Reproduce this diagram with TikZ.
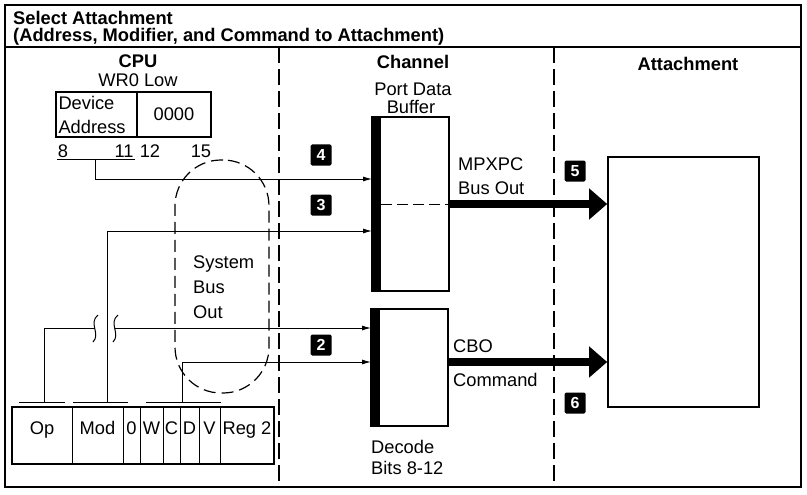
\documentclass[tikz,border=0pt]{standalone}
\usepackage{fontspec}
\setmainfont{Liberation Sans}
\usetikzlibrary{arrows.meta,positioning,calc}

\begin{document}
\begin{tikzpicture}[
  x=1pt, y=-1pt,
  >={Latex[length=9pt,width=5pt]},
  every node/.style={font=\fontsize{18.3}{21}\selectfont, inner sep=0pt},
  head/.style={font=\bfseries\fontsize{18.3}{21}\selectfont},
  reg/.style={draw, line width=1.6pt, outer sep=0pt, minimum height=45pt},
  field/.style={draw, line width=0.9pt, outer sep=0pt, minimum height=57pt},
  buf/.style={draw, line width=1.6pt, outer sep=0pt, minimum width=77pt},
  badge/.style={fill=black, text=white, rounded corners=1.5pt, minimum size=21pt,
                font=\bfseries\fontsize{16}{16}\selectfont},
  sep/.style={line width=1.3pt, dash pattern=on 16pt off 6pt},
  bus/.style={line width=1.2pt, dash pattern=on 12pt off 6pt},
  wire/.style={line width=1pt},
  fat/.style={line width=8pt, -{Triangle[length=18pt,width=30pt]}},
]
\useasboundingbox (0,0) rectangle (807,495);

% frame and title
\draw[line width=1.8pt] (5,5) rectangle (801,487);
\draw[line width=1.8pt] (5,47) -- (801,47);
\node[head, anchor=west] (title) at (13,18) {Select Attachment};
\node[head, anchor=west] (subtitle) at (13,37) {(Address, Modifier, and Command to Attachment)};

% column separators
\draw[sep] (279,47) -- (279,487);
\draw[sep] (554,47) -- (554,487);

% headings
\node[head] (cpu) at (138,61) {CPU};
\node (wr0) at (138,80) {WR0 Low};
\node[head] (chan) at (413,62) {Channel};
\node (port) at (413,89) {Port Data};
\node (buffer) at (411,107) {Buffer};
\node[head] (att) at (688,64) {Attachment};

% WR0 low register
\node[reg, minimum width=81pt, text width=76pt, align=left,
      font=\fontsize{18.3}{24}\selectfont] (dev) at (96.5,114.5) {Device\\Address};
\node[reg, minimum width=74pt, right=0pt of dev] (zero) {0000};
\node (b8) at (63,151) {8};
\node (b11) at (124,151) {11};
\node (b12) at (150,151) {12};
\node (b15) at (201,151) {15};
\draw[wire] (57,159) -- (135,159);
\coordinate (tap4) at (95,159);

% system bus out
\node[draw, bus, rounded corners=46pt, minimum width=94pt, minimum height=233pt]
  (sbo) at (222,276.5) {};
\node[anchor=west, align=left, font=\fontsize{18.3}{25}\selectfont]
  (sbotxt) at (193,287) {System\\Bus\\Out};

% instruction register
\foreach \a/\b/\t/\n in {12/72/Op/op, 72/123/Mod/mod, 123/140/0/zb, 140/163/W/w,
                         163/180/C/c, 180/199/D/d, 199/220/V/v, 220/274/Reg 2/rg}{
  \node[field, minimum width={(\b-\a)*1pt}] (\n) at ({(\a+\b)/2},435.5) {};
  \node[anchor=base] (\n-t) at ({(\a+\b)/2},434) {\t};
}
\draw[line width=1.6pt] (op.north west) rectangle (rg.south east);
\draw[wire] (19,402) -- (65,402);
\draw[wire] (73,402) -- (128,402);
\draw[wire] (146,402) -- (221,402);
\coordinate (tapop) at (44,402);
\coordinate (tapmod) at (107,402);
\coordinate (tapcd) at (182,402);

% channel
\node[buf, minimum height=174pt] (pdb) at (410.5,204) {};
\fill (pdb.north west) rectangle ([xshift=9pt]pdb.south west);
\draw[wire, dash pattern=on 11pt off 5pt] ([xshift=9pt]pdb.west) -- (pdb.east);
\node[buf, minimum height=117pt] (dec) at (409.5,367.5) {};
\fill (dec.north west) rectangle ([xshift=9pt]dec.south west);
\node[anchor=west] (mpx) at (458,164) {MPXPC};
\node[anchor=west] (busout) at (458,188) {Bus Out};
\node[anchor=west] (cbo) at (453,346) {CBO};
\node[anchor=west] (cmd) at (453,380) {Command};
\node[anchor=west] (decode) at (371,447) {Decode};
\node[anchor=west] (bits) at (371,468) {Bits 8-12};

% attachment
\node[draw, line width=1.6pt, minimum width=151pt, minimum height=250pt] (attbox) at (683.5,282) {};

% levels
\coordinate (y4) at (0,179);
\coordinate (y3) at (0,231);
\coordinate (brk1) at (95,328);
\coordinate (brk2) at (115,328);
\coordinate (ycd) at (0,362);

% connectors
\draw[wire,->] (tap4) |- (pdb.west |- y4);
\draw[wire,->] (tapmod) |- (pdb.west |- y3);
\draw[wire] (tapop) |- (brk1);
\draw[wire,->] (brk2) -- (dec.west |- brk2);
\draw[wire,->] (tapcd) |- (dec.west |- ycd);
\foreach \bx in {95,115}
  \draw[wire] ({\bx+3},315) .. controls ({\bx-7},323) and ({\bx+6},334) .. ({\bx-2},342);
\draw[fat] (pdb.east) -- (pdb.east -| attbox.west);
\draw[fat] (dec.east |- ycd) -- (attbox.west |- ycd);

% steps
\node[badge] (s4) at (321,155) {4};
\node[badge] (s3) at (321,205) {3};
\node[badge] (s2) at (321,345) {2};
\node[badge] (s5) at (575,171) {5};
\node[badge] (s6) at (575,403) {6};
\end{tikzpicture}
\end{document}
